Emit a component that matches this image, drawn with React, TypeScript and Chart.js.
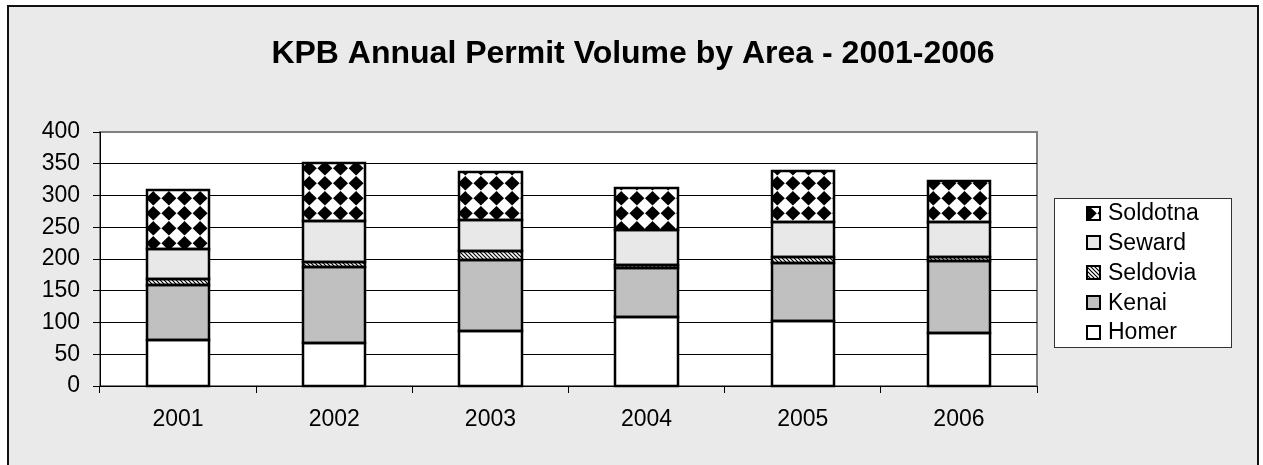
import React, { useEffect, useRef } from 'react';
import { Chart, registerables } from 'chart.js';

Chart.register(...registerables);

const years = ['2001', '2002', '2003', '2004', '2005', '2006'];
const homer = [72, 67, 86, 108, 103, 84];
const kenai = [87, 121, 113, 78, 90, 113];
const seldovia = [9, 8, 14, 5, 10, 6];
const seward = [47, 64, 48, 54, 55, 56];
const soldotna = [94, 91, 76, 67, 80, 64];
const yMin = 0;
const yMax = 400;
const yStep = 50;
const chartTitle = 'KPB Annual Permit Volume by Area - 2001-2006';

const FONT = "'Liberation Sans', Arial, Helvetica, sans-serif";

function diamondPattern(ctx: CanvasRenderingContext2D): CanvasPattern | string {
  const t = document.createElement('canvas');
  const px = 15.6, py = 15;
  t.width = 78;
  t.height = 75;
  const c = t.getContext('2d');
  if (!c) return '#000';
  c.fillStyle = '#fff';
  c.fillRect(0, 0, t.width, t.height);
  c.fillStyle = '#000';
  const ox = 12.9, oy = 3.3, hw = 7.5, hh = 7.2;
  for (let i = -1; i <= 6; i++) {
    for (let j = -1; j <= 6; j++) {
      const cx = ox + i * px, cy = oy + j * py;
      c.beginPath();
      c.moveTo(cx, cy - hh);
      c.lineTo(cx + hw, cy);
      c.lineTo(cx, cy + hh);
      c.lineTo(cx - hw, cy);
      c.closePath();
      c.fill();
    }
  }
  return ctx.createPattern(t, 'repeat') || '#000';
}

function stripePattern(ctx: CanvasRenderingContext2D): CanvasPattern | string {
  const t = document.createElement('canvas');
  t.width = 4;
  t.height = 4;
  const c = t.getContext('2d');
  if (!c) return '#888';
  c.fillStyle = '#fff';
  c.fillRect(0, 0, 4, 4);
  c.strokeStyle = '#000';
  c.lineWidth = 1.2;
  c.beginPath();
  c.moveTo(-1, -1);
  c.lineTo(5, 5);
  c.moveTo(-1, 3);
  c.lineTo(1, 5);
  c.moveTo(3, -1);
  c.lineTo(5, 1);
  c.stroke();
  return ctx.createPattern(t, 'repeat') || '#888';
}

const framePlugin = {
  id: 'framePlugin',
  beforeDraw(chart: any) {
    const { ctx, chartArea: a, width, height } = chart;
    ctx.save();
    ctx.fillStyle = '#ffffff';
    ctx.fillRect(0, 0, width, height);
    ctx.fillStyle = '#eaeaea';
    ctx.fillRect(8, 6, 1250, height + 20);
    ctx.strokeStyle = '#111';
    ctx.lineWidth = 2;
    ctx.strokeRect(8, 6, 1250, height + 20);
    ctx.fillStyle = '#ffffff';
    ctx.fillRect(a.left, a.top, a.right - a.left, a.bottom - a.top);
    ctx.strokeStyle = '#808080';
    ctx.lineWidth = 2;
    ctx.strokeRect(a.left, a.top, a.right - a.left, a.bottom - a.top);
    ctx.fillStyle = '#000';
    ctx.font = `bold 32px ${FONT}`;
    ctx.textAlign = 'center';
    ctx.textBaseline = 'alphabetic';
    ctx.fillText(chartTitle, 633, 63);
    ctx.restore();
  },
};

const outlinePlugin = {
  id: 'barOutline',
  afterDatasetsDraw(chart: any) {
    const { ctx } = chart;
    ctx.save();
    ctx.strokeStyle = '#000';
    ctx.lineWidth = 2.5;
    chart.data.datasets.forEach((_d: any, di: number) => {
      const meta = chart.getDatasetMeta(di);
      meta.data.forEach((el: any) => {
        const { x, y, base, width } = el.getProps(['x', 'y', 'base', 'width'], true);
        const l = Math.round(x - width / 2);
        const r = Math.round(x + width / 2);
        const t = Math.round(Math.min(y, base));
        const b = Math.round(Math.max(y, base));
        ctx.strokeRect(l, t, r - l, b - t);
      });
    });
    ctx.restore();
  },
};

const legendPlugin = {
  id: 'boxLegend',
  afterDraw(chart: any) {
    const { ctx } = chart;
    const ds = chart.data.datasets;
    ctx.save();
    const bx = 1054, by = 198, bw = 177, bh = 149;
    ctx.fillStyle = '#ffffff';
    ctx.fillRect(bx, by, bw, bh);
    ctx.strokeStyle = '#333';
    ctx.lineWidth = 1;
    ctx.strokeRect(bx + 0.5, by + 0.5, bw, bh);
    ctx.font = `23px ${FONT}`;
    ctx.textAlign = 'left';
    ctx.textBaseline = 'middle';
    const order = [...ds.keys()].reverse();
    order.forEach((di: number, i: number) => {
      const d = ds[di];
      const cy = 213 + i * 29.75;
      const s = 13;
      const top = Math.round(cy - s / 2);
      ctx.fillStyle = d.backgroundColor;
      ctx.fillRect(1087, top, s, s);
      ctx.strokeStyle = '#000';
      ctx.lineWidth = 2;
      ctx.strokeRect(1087, top, s, s);
      ctx.fillStyle = '#000';
      ctx.fillText(d.label, 1108, cy + 1);
    });
    ctx.restore();
  },
};

export default function App() {
  const ref = useRef<HTMLCanvasElement>(null);

  useEffect(() => {
    document.body.style.margin = '0';
    const canvas = ref.current;
    if (!canvas) return;
    const ctx = canvas.getContext('2d');
    if (!ctx) return;
    const diamonds = diamondPattern(ctx);
    const stripes = stripePattern(ctx);

    const common = {
      borderWidth: 0,
      barPercentage: 0.4,
      categoryPercentage: 1.0,
    };

    const chart = new Chart(ctx, {
      type: 'bar',
      data: {
        labels: years,
        datasets: [
          { label: 'Homer', data: homer, backgroundColor: '#ffffff', ...common },
          { label: 'Kenai', data: kenai, backgroundColor: '#c0c0c0', ...common },
          { label: 'Seldovia', data: seldovia, backgroundColor: stripes, ...common },
          { label: 'Seward', data: seward, backgroundColor: '#e8e8e8', ...common },
          { label: 'Soldotna', data: soldotna, backgroundColor: diamonds, ...common },
        ] as any,
      },
      options: {
        responsive: false,
        devicePixelRatio: 1,
        animation: false,
        events: [],
        layout: { padding: { left: 8, top: 132, right: 226, bottom: 0 } },
        plugins: {
          legend: { display: false },
          title: { display: false },
          tooltip: { enabled: false },
        },
        scales: {
          x: {
            stacked: true,
            offset: true,
            afterFit: (s: any) => { s.height = 79; },
            grid: {
              offset: true,
              drawOnChartArea: false,
              drawTicks: true,
              tickLength: 7,
              tickColor: '#000',
              tickWidth: 1,
            },
            border: { display: true, color: '#000', width: 1 },
            ticks: {
              color: '#000',
              padding: 13,
              font: { family: FONT, size: 23 },
            },
          },
          y: {
            stacked: true,
            min: yMin,
            max: yMax,
            afterFit: (s: any) => { s.width = 92; },
            grid: {
              color: (c: any) => (c.tick && c.tick.value === yMax ? 'rgba(0,0,0,0)' : '#000'),
              lineWidth: 1,
              drawTicks: true,
              tickLength: 7,
              tickColor: '#000',
              tickWidth: 1,
            },
            border: { display: true, color: '#000', width: 1 },
            ticks: {
              stepSize: yStep,
              color: '#000',
              padding: 13,
              font: { family: FONT, size: 23 },
            },
          },
        },
      } as any,
      plugins: [framePlugin, outlinePlugin, legendPlugin],
    });

    return () => {
      chart.destroy();
    };
  }, []);

  return <canvas ref={ref} width={1263} height={465} style={{ display: 'block' }} />;
}
